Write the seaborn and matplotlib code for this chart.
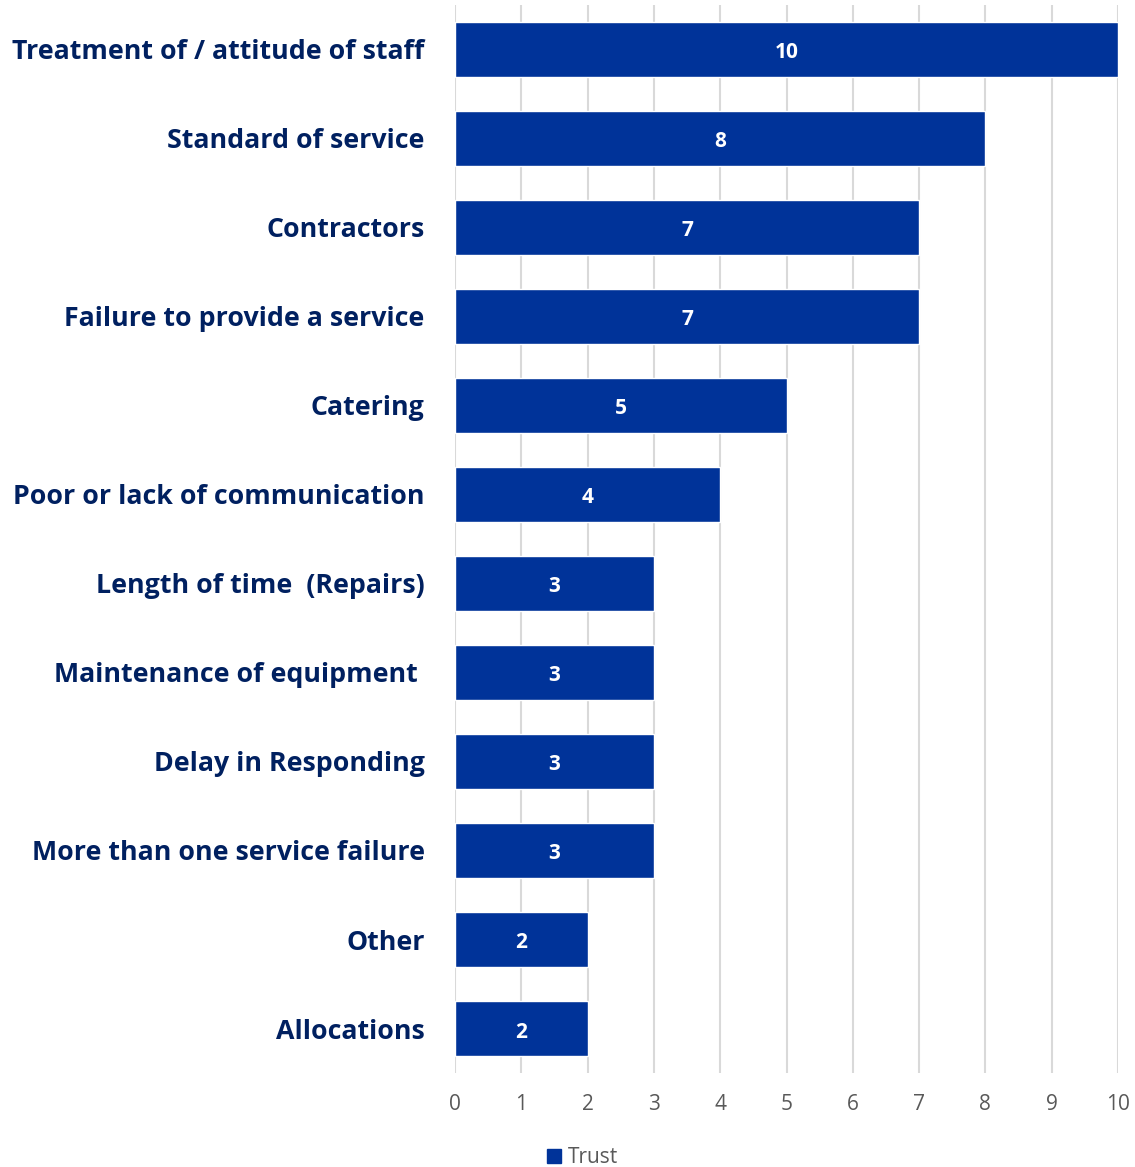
import matplotlib
matplotlib.use("Agg")
import matplotlib.pyplot as plt
import pandas as pd
import seaborn as sns

categories = [
    "Treatment of / attitude of staff",
    "Standard of service",
    "Contractors",
    "Failure to provide a service",
    "Catering",
    "Poor or lack of communication",
    "Length of time  (Repairs)",
    "Maintenance of equipment ",
    "Delay in Responding",
    "More than one service failure",
    "Other",
    "Allocations",
]
counts = [10, 8, 7, 7, 5, 4, 3, 3, 3, 3, 2, 2]
x_ticks = list(range(0, 11))
series_name = "Trust"

BAR = "#003399"
NAVY = "#002060"
GREY = "#595959"

sns.set_theme(style="white")
plt.rcParams["font.family"] = ["Open Sans", "DejaVu Sans"]

df = pd.DataFrame({"category": categories, "count": counts, "series": series_name})

fig = plt.figure(figsize=(11.35, 11.67), dpi=100)
ax = fig.add_axes([0.401, 0.0805, 0.584, 0.9155])

sns.barplot(data=df, x="count", y="category", hue="series", palette=[BAR],
            orient="h", width=0.62, ax=ax, saturation=1, legend=False)

ax.set_xlim(0, 10)
ax.set_xticks(x_ticks)
ax.set_xticklabels([str(t) for t in x_ticks], fontsize=15, color=GREY)
ax.tick_params(axis="x", length=0, pad=15)
ax.tick_params(axis="y", length=0, pad=22)
for lab in ax.get_yticklabels():
    lab.set_fontsize(19.3)
    lab.set_fontweight("bold")
    lab.set_color(NAVY)
ax.set_xlabel("")
ax.set_ylabel("")
ax.xaxis.grid(True, color="#d9d9d9", linewidth=1.5)
ax.set_axisbelow(True)
for s in ax.spines.values():
    s.set_visible(False)

for cont in ax.containers:
    anns = ax.bar_label(cont, label_type="center", color="white", fontsize=15,
                        fontweight="bold")
    for a in anns:
        a.xyann = (0, -2.5)

handle = plt.Rectangle((0, 0), 1, 1, color=BAR)
fig.legend([handle], [series_name], loc="center", bbox_to_anchor=(0.513, 0.008),
           frameon=False, fontsize=15, labelcolor=GREY, handlelength=0.7,
           handleheight=0.7, handletextpad=0.3)

fig.savefig("out.png", dpi=100)
